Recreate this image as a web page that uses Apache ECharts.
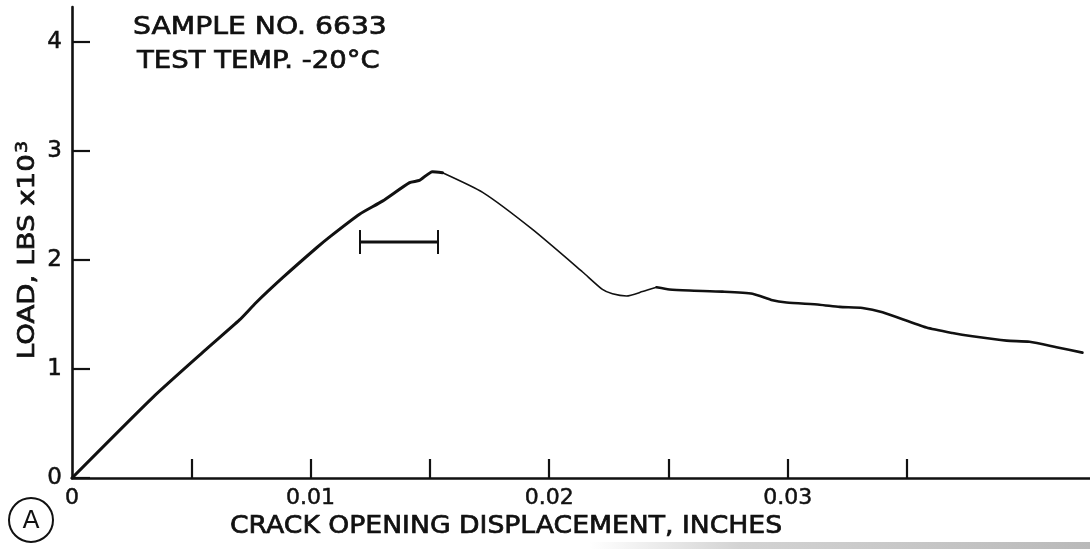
<!DOCTYPE html>
<html>
<head>
<meta charset="utf-8">
<script src="https://cdn.jsdelivr.net/npm/echarts@6/dist/echarts.min.js"></script>
<style>
html,body{margin:0;padding:0;background:#fff;}
#chart{width:1090px;height:549px;}
</style>
</head>
<body>
<div id="chart"></div>
<script>
// ---- data ----
const curveX = [0, 0.00339, 0.00562, 0.00702, 0.00772, 0.00884, 0.01024, 0.01079, 0.01205, 0.01301, 0.01415, 0.01456, 0.01511, 0.01553,
  0.01721, 0.01930, 0.02140, 0.02223, 0.02265, 0.02324, 0.02391, 0.02450,
  0.02504, 0.02588, 0.02726, 0.02852, 0.02936, 0.02995, 0.03133, 0.03217, 0.03313, 0.03397, 0.03581, 0.03690, 0.03774, 0.03917, 0.04013, 0.04126, 0.04235];
const curveY = [0, 0.74, 1.18, 1.45, 1.61, 1.84, 2.11, 2.21, 2.42, 2.54, 2.71, 2.73, 2.81, 2.80,
  2.62, 2.28, 1.89, 1.73, 1.69, 1.67, 1.71, 1.75,
  1.73, 1.72, 1.71, 1.69, 1.63, 1.61, 1.59, 1.57, 1.56, 1.52, 1.38, 1.33, 1.30, 1.26, 1.25, 1.20, 1.15];
// segments of the trace (index ranges), drawn with the pen weights seen in the picture
const segments = [[0, 13], [13, 21], [21, 38]];
const segmentWidths = [3, 1.6, 2.6];
// scatter band (horizontal bar with end caps)
const bandX = [0.01207, 0.01534];
const bandY = 2.165;
const bandHalf = 0.11;
// axes
const xTickValues = [0.005, 0.01, 0.015, 0.02, 0.025, 0.03, 0.035];
const xLabelValues = [0, 0.01, 0.02, 0.03];
const xTickLabels = ['0', '0.01', '0.02', '0.03'];
const yTickLabels = ['0', '1', '2', '3', '4'];
const titleLines = ['SAMPLE NO. 6633', 'TEST TEMP. -20\u00B0C'];
const xTitle = 'CRACK OPENING DISPLACEMENT, INCHES';
const yTitle = 'LOAD, LBS x10';
const yTitleSup = '3';
const panelLetter = 'A';

const FONT = 'DejaVu Sans';
const INK = '#111';

function pairs(a, b) {
  const out = [];
  for (let i = a; i <= b; i++) out.push([curveX[i], curveY[i]]);
  return out;
}

const lineSeries = segments.map((s, k) => ({
  type: 'line',
  data: pairs(s[0], s[1]),
  showSymbol: false,
  smooth: 0.2,
  lineStyle: { color: INK, width: segmentWidths[k], cap: 'round', join: 'round' },
  silent: true,
  z: 3
}));

const boldText = { stroke: INK, lineWidth: 0.7 };

const chart = echarts.init(document.getElementById('chart'));
chart.setOption({
  animation: false,
  backgroundColor: '#fff',
  grid: { left: 72, right: 0, top: 7, bottom: 71, containLabel: false },
  xAxis: {
    type: 'value',
    min: 0,
    max: 0.042666,
    interval: 0.005,
    axisLine: { show: true, lineStyle: { color: INK, width: 2.6 } },
    axisTick: { show: true, inside: true, length: 19, customValues: xTickValues, lineStyle: { color: INK, width: 2.2 } },
    splitLine: { show: false },
    axisLabel: {
      customValues: xLabelValues,
      margin: 9,
      fontFamily: FONT,
      fontSize: 22,
      color: INK,
      textBorderColor: INK,
      textBorderWidth: 0.5,
      formatter: function (v) {
        const i = Math.round(v * 100);
        return i < xTickLabels.length ? xTickLabels[i] : '';
      }
    }
  },
  yAxis: {
    type: 'value',
    min: 0,
    max: 4.321,
    interval: 1,
    axisLine: { show: true, lineStyle: { color: INK, width: 2.6 } },
    axisTick: { show: true, inside: true, length: 18, lineStyle: { color: INK, width: 2.2 } },
    splitLine: { show: false },
    axisLabel: {
      showMaxLabel: false,
      margin: 10,
      fontFamily: FONT,
      fontSize: 23,
      color: INK,
      textBorderColor: INK,
      textBorderWidth: 0.5,
      formatter: function (v) {
        const i = Math.round(v);
        return i < yTickLabels.length ? yTickLabels[i] : '';
      }
    }
  },
  series: lineSeries.concat([{
    type: 'custom',
    silent: true,
    z: 4,
    data: [[bandX[0], bandX[1], bandY, bandHalf]],
    renderItem: function (params, api) {
      const x1 = api.value(0), x2 = api.value(1), y = api.value(2), h = api.value(3);
      const a = api.coord([x1, y]), b = api.coord([x2, y]);
      const a1 = api.coord([x1, y - h]), a2 = api.coord([x1, y + h]);
      const b1 = api.coord([x2, y - h]), b2 = api.coord([x2, y + h]);
      const st = { stroke: INK, lineWidth: 3 };
      const st2 = { stroke: INK, lineWidth: 2 };
      return {
        type: 'group',
        children: [
          { type: 'line', shape: { x1: a[0], y1: a[1], x2: b[0], y2: b[1] }, style: st },
          { type: 'line', shape: { x1: a1[0], y1: a1[1], x2: a2[0], y2: a2[1] }, style: st2 },
          { type: 'line', shape: { x1: b1[0], y1: b1[1], x2: b2[0], y2: b2[1] }, style: st2 }
        ]
      };
    }
  }]),
  graphic: [
    { type: 'text', x: 133, y: 27, scaleX: 1.13, style: Object.assign({ text: titleLines[0], font: '25px "DejaVu Sans"', fill: INK, verticalAlign: 'middle' }, boldText) },
    { type: 'text', x: 137, y: 61, scaleX: 1.1, style: Object.assign({ text: titleLines[1], font: '25px "DejaVu Sans"', fill: INK, verticalAlign: 'middle' }, boldText) },
    { type: 'text', x: 230, y: 527, scaleX: 1.11, style: Object.assign({ text: xTitle, font: '24px "DejaVu Sans"', fill: INK, verticalAlign: 'middle' }, boldText) },
    { type: 'text', x: 28, y: 250, rotation: Math.PI / 2, scaleX: 1.2,
      style: Object.assign({ text: yTitle + '{sup|' + yTitleSup + '}', font: '23px "DejaVu Sans"', fill: INK, align: 'center', verticalAlign: 'middle',
        rich: { sup: { font: '16px "DejaVu Sans"', fill: INK, verticalAlign: 'top', padding: [0, 0, 10, 1] } } }, boldText) },
    { type: 'circle', shape: { cx: 31, cy: 520, r: 22 }, style: { fill: 'none', stroke: INK, lineWidth: 2 } },
    { type: 'text', x: 31, y: 521, style: { text: panelLetter, font: '25px "DejaVu Sans"', fill: INK, align: 'center', verticalAlign: 'middle' } },
    { type: 'rect', shape: { x: 590, y: 542, width: 500, height: 7 }, silent: true,
      style: { fill: new echarts.graphic.LinearGradient(0, 0, 1, 0, [{ offset: 0, color: 'rgba(200,200,200,0)' }, { offset: 0.3, color: 'rgba(200,200,200,0.8)' }, { offset: 1, color: 'rgba(185,185,185,1)' }]) } }
  ]
});
</script>
</body>
</html>
